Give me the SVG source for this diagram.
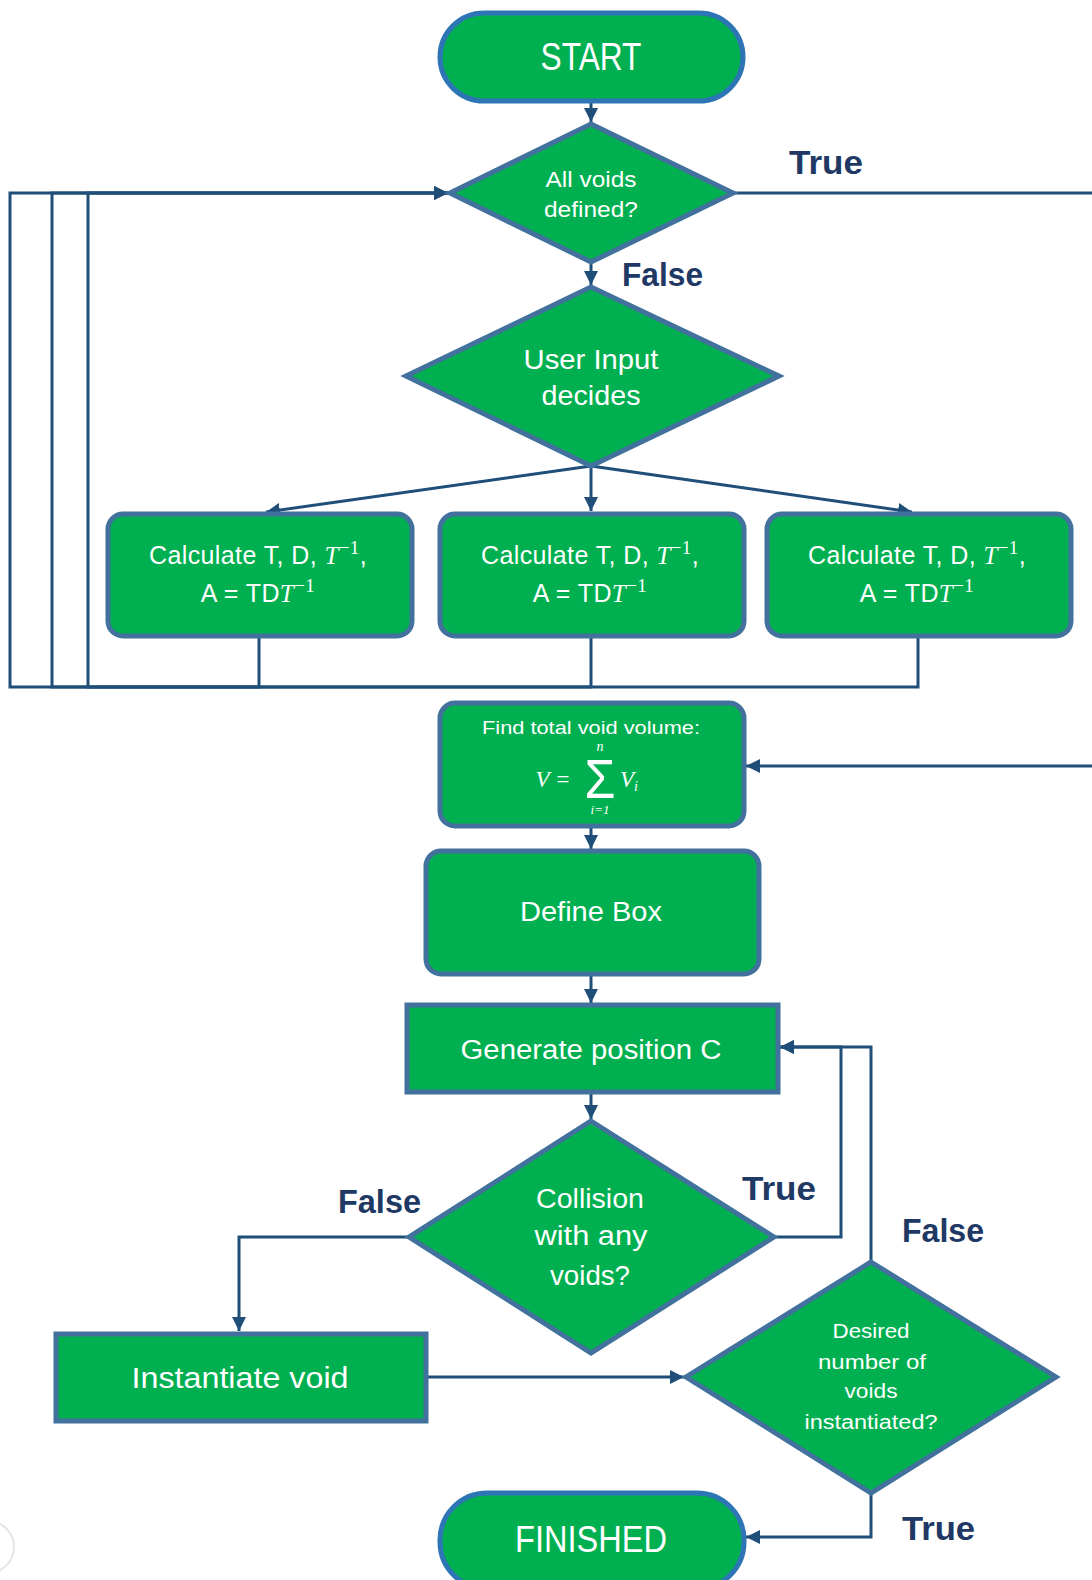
<svg xmlns="http://www.w3.org/2000/svg" width="1092" height="1580" viewBox="0 0 1092 1580">
<defs>
<style>
.node{fill:#00B050;stroke:#41719C;stroke-width:5}
.term{fill:#00B050;stroke:#2E75B6;stroke-width:5}
.conn{fill:none;stroke:#1F4E79;stroke-width:3}
.t{fill:#FFFFFF;font-family:"Liberation Sans",Arial,sans-serif;text-anchor:middle}
.m{font-family:"Liberation Serif","DejaVu Serif",serif;font-style:italic}
.sup{font-family:"Liberation Serif","DejaVu Serif",serif;font-size:19px}
.lbl{fill:#203864;font-family:"Liberation Sans",Arial,sans-serif;font-weight:bold;font-size:34px}
</style>
<marker id="arr" markerUnits="userSpaceOnUse" markerWidth="15" markerHeight="14" refX="14" refY="7" orient="auto">
<path d="M0,0 L14,7 L0,14 z" fill="#1F4E79"/>
</marker>
</defs>
<rect width="1092" height="1580" fill="#FFFFFF"/>
<circle cx="-12" cy="1547" r="26" fill="none" stroke="#E4E4E4" stroke-width="2"/>

<g id="connectors">
<path class="conn" d="M591,102 V122" marker-end="url(#arr)"/>
<path class="conn" d="M591,262 V285" marker-end="url(#arr)"/>
<path class="conn" d="M591,466 L266,512" marker-end="url(#arr)"/>
<path class="conn" d="M591,466 V511" marker-end="url(#arr)"/>
<path class="conn" d="M591,466 L912,512" marker-end="url(#arr)"/>
<path class="conn" d="M259,636 V687 H88 V193 H448" marker-end="url(#arr)"/>
<path class="conn" d="M591,636 V687 H52 V193 H448" marker-end="url(#arr)"/>
<path class="conn" d="M918,636 V687 H10 V193 H448" marker-end="url(#arr)"/>
<path class="conn" d="M733,193 H1110 V766 H746" marker-end="url(#arr)"/>
<path class="conn" d="M591,826 V849" marker-end="url(#arr)"/>
<path class="conn" d="M591,974 V1003" marker-end="url(#arr)"/>
<path class="conn" d="M591,1092 V1119" marker-end="url(#arr)"/>
<path class="conn" d="M774,1237 H841 V1047 H780" marker-end="url(#arr)"/>
<path class="conn" d="M871,1262 V1047 H780" marker-end="url(#arr)"/>
<path class="conn" d="M409,1237 H239 V1331" marker-end="url(#arr)"/>
<path class="conn" d="M426,1377 H684" marker-end="url(#arr)"/>
<path class="conn" d="M871,1493 V1537 H746" marker-end="url(#arr)"/>
</g>

<g id="labels">
<text class="lbl" x="789" y="174" textLength="74" lengthAdjust="spacingAndGlyphs">True</text>
<text class="lbl" x="622" y="286" textLength="81" lengthAdjust="spacingAndGlyphs">False</text>
<text class="lbl" x="742" y="1200" textLength="74" lengthAdjust="spacingAndGlyphs">True</text>
<text class="lbl" x="338" y="1213" textLength="83" lengthAdjust="spacingAndGlyphs">False</text>
<text class="lbl" x="902" y="1242" textLength="82" lengthAdjust="spacingAndGlyphs">False</text>
<text class="lbl" x="902" y="1540" textLength="73" lengthAdjust="spacingAndGlyphs">True</text>
</g>

<g id="start">
<rect class="term" x="440" y="13" width="303" height="88" rx="44"/>
<text class="t" x="591" y="70" font-size="38" textLength="101" lengthAdjust="spacingAndGlyphs">START</text>
</g>

<g id="all-voids-defined">
<polygon class="node" points="591,124 733,193 591,262 450,193"/>
<text class="t" x="591" y="187" font-size="22" textLength="91" lengthAdjust="spacingAndGlyphs">All voids</text>
<text class="t" x="591" y="217" font-size="22" textLength="94" lengthAdjust="spacingAndGlyphs">defined?</text>
</g>

<g id="user-input">
<polygon class="node" points="591,287 779,376 591,466 406,376"/>
<text class="t" x="591" y="369" font-size="28" textLength="135" lengthAdjust="spacingAndGlyphs">User Input</text>
<text class="t" x="591" y="405" font-size="28" textLength="99" lengthAdjust="spacingAndGlyphs">decides</text>
</g>

<g id="calc-1">
<rect class="node" x="108" y="514" width="304" height="122" rx="15"/>
<text class="t" x="258" y="564" font-size="25" letter-spacing="0.4">Calculate T, D, <tspan class="m">T</tspan><tspan class="sup" dy="-10">−1</tspan><tspan dy="10">,</tspan></text>
<text class="t" x="258" y="602" font-size="25" letter-spacing="0.4">A = TD<tspan class="m">T</tspan><tspan class="sup" dy="-10">−1</tspan></text>
</g>

<g id="calc-2">
<rect class="node" x="440" y="514" width="304" height="122" rx="15"/>
<text class="t" x="590" y="564" font-size="25" letter-spacing="0.4">Calculate T, D, <tspan class="m">T</tspan><tspan class="sup" dy="-10">−1</tspan><tspan dy="10">,</tspan></text>
<text class="t" x="590" y="602" font-size="25" letter-spacing="0.4">A = TD<tspan class="m">T</tspan><tspan class="sup" dy="-10">−1</tspan></text>
</g>

<g id="calc-3">
<rect class="node" x="767" y="514" width="304" height="122" rx="15"/>
<text class="t" x="917" y="564" font-size="25" letter-spacing="0.4">Calculate T, D, <tspan class="m">T</tspan><tspan class="sup" dy="-10">−1</tspan><tspan dy="10">,</tspan></text>
<text class="t" x="917" y="602" font-size="25" letter-spacing="0.4">A = TD<tspan class="m">T</tspan><tspan class="sup" dy="-10">−1</tspan></text>
</g>

<g id="total-volume">
<rect class="node" x="440" y="703" width="304" height="123" rx="15"/>
<text class="t" x="591" y="734" font-size="18" textLength="218" lengthAdjust="spacingAndGlyphs">Find total void volume:</text>
<text class="t m" x="553" y="787" font-size="23">V =</text>
<text class="t" x="600" y="798" font-size="56" font-family="Liberation Serif,serif" textLength="31" lengthAdjust="spacingAndGlyphs">Σ</text>
<text class="t m" x="600" y="751" font-size="14">n</text>
<text class="t m" x="600" y="814" font-size="13">i=1</text>
<text class="t m" x="629" y="787" font-size="23">V<tspan font-size="14" dy="4">i</tspan></text>
</g>

<g id="define-box">
<rect class="node" x="426" y="851" width="333" height="123" rx="15"/>
<text class="t" x="591" y="921" font-size="28" textLength="142" lengthAdjust="spacingAndGlyphs">Define Box</text>
</g>

<g id="generate-position">
<rect class="node" x="407" y="1005" width="371" height="87"/>
<text class="t" x="591" y="1059" font-size="27" textLength="261" lengthAdjust="spacingAndGlyphs">Generate position C</text>
</g>

<g id="collision">
<polygon class="node" points="591,1121 774,1237 591,1353 409,1237"/>
<text class="t" x="590" y="1208" font-size="27" textLength="108" lengthAdjust="spacingAndGlyphs">Collision</text>
<text class="t" x="591" y="1245" font-size="27" textLength="113" lengthAdjust="spacingAndGlyphs">with any</text>
<text class="t" x="590" y="1285" font-size="27" textLength="80" lengthAdjust="spacingAndGlyphs">voids?</text>
</g>

<g id="instantiate-void">
<rect class="node" x="56" y="1334" width="370" height="87"/>
<text class="t" x="240" y="1388" font-size="29" textLength="217" lengthAdjust="spacingAndGlyphs">Instantiate void</text>
</g>

<g id="desired-number">
<polygon class="node" points="871,1262 1056,1377 871,1493 686,1377"/>
<text class="t" x="871" y="1338" font-size="20" textLength="77" lengthAdjust="spacingAndGlyphs">Desired</text>
<text class="t" x="872" y="1369" font-size="20" textLength="108" lengthAdjust="spacingAndGlyphs">number of</text>
<text class="t" x="871" y="1398" font-size="20" textLength="53" lengthAdjust="spacingAndGlyphs">voids</text>
<text class="t" x="871" y="1429" font-size="20" textLength="133" lengthAdjust="spacingAndGlyphs">instantiated?</text>
</g>

<g id="finished">
<rect class="term" x="440" y="1493" width="304" height="96" rx="47"/>
<text class="t" x="591" y="1552" font-size="36" textLength="152" lengthAdjust="spacingAndGlyphs">FINISHED</text>
</g>
</svg>
